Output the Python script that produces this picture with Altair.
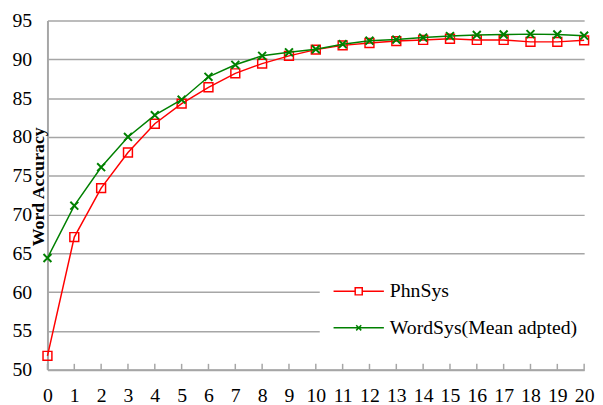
import altair as alt
import pandas as pd

# ---- data ----
x_vals = list(range(21))
phn_sys = [51.8, 67.1, 73.4, 78.0, 81.7, 84.3, 86.4, 88.2, 89.45, 90.45, 91.25,
           91.8, 92.1, 92.35, 92.5, 92.65, 92.5, 92.5, 92.25, 92.25, 92.45]
word_sys = [64.4, 71.15, 76.1, 80.0, 82.8, 84.8, 87.75, 89.3, 90.45, 90.9, 91.3,
            91.95, 92.4, 92.55, 92.8, 93.0, 93.15, 93.2, 93.25, 93.2, 93.05]
series_names = ["PhnSys", "WordSys(Mean adpted)"]
series_colors = ["#ff0000", "#008000"]
y_ticks = [50, 55, 60, 65, 70, 75, 80, 85, 90, 95]

rows = []
for name, vals in zip(series_names, [phn_sys, word_sys]):
    for xv, v in zip(x_vals, vals):
        rows.append({"x": xv, "value": v, "series": name})
df = pd.DataFrame(rows)
ticks_df = pd.DataFrame({"x": x_vals})

FONT = "Liberation Serif"
GRID = "#a6a6a6"

xenc = alt.X("x:Q", title=None,
             scale=alt.Scale(domain=[0, 20], nice=False),
             axis=alt.Axis(values=x_vals, grid=False, ticks=False,
                           domainColor=GRID, domainWidth=2,
                           labelFont=FONT, labelFontSize=20, labelColor="black",
                           labelPadding=16, labelFlush=False, labelOverlap=False))
yenc = alt.Y("value:Q", title="Word Accuracy",
             scale=alt.Scale(domain=[50, 95], nice=False, zero=False),
             axis=alt.Axis(values=y_ticks, grid=True, gridColor=GRID, gridWidth=1.5,
                           ticks=False, domainColor=GRID, domainWidth=2,
                           labelFont=FONT, labelFontSize=20, labelColor="black",
                           labelPadding=16,
                           titleFont=FONT, titleFontSize=18, titleFontWeight="bold",
                           titleColor="black", titleAngle=270, titleX=-9, titleY=168,
                           titleAlign="center", titleBaseline="middle"))

base = alt.Chart(df)

def series_layers(name, color, shape, size, sw):
    sub = base.transform_filter(alt.datum.series == name)
    line = sub.mark_line(strokeWidth=1.5, color=color).encode(x=xenc, y=yenc)
    pts = sub.mark_point(shape=shape, size=size, filled=False, color=color,
                         strokeWidth=sw, opacity=1).encode(x=xenc, y=yenc)
    return line, pts

red_line, red_pts = series_layers("PhnSys", "#ff0000", "square", 81, 1.5)
green_line, green_pts = series_layers("WordSys(Mean adpted)", "#008000",
                                      "M-1,-1L1,1M-1,1L1,-1", 64, 2)

legend_shapes = [
    "M-1,0L-0.14,0M0.14,0L1,0M-0.14,-0.14L0.14,-0.14L0.14,0.14L-0.14,0.14Z",
    "M-1,0L1,0M-0.1,-0.1L0.1,0.1M-0.1,0.1L0.1,-0.1",
]
leg = alt.Legend(orient="none", legendX=276, legendY=238, title=None,
                 fillColor="white", padding=10, rowPadding=0,
                 symbolSize=2601, symbolStrokeWidth=1.5, symbolOpacity=1,
                 symbolOffset=3, labelOffset=5, labelLimit=400,
                 labelFont=FONT, labelFontSize=20, labelColor="black")

legend_layer = base.mark_point(opacity=0.001, filled=False, strokeWidth=1.5).encode(
    x=xenc, y=yenc,
    color=alt.Color("series:N", scale=alt.Scale(domain=series_names, range=series_colors),
                    legend=leg),
    shape=alt.Shape("series:N", scale=alt.Scale(domain=series_names, range=legend_shapes),
                    legend=leg),
)

tick_marks = alt.Chart(ticks_df).mark_rule(color=GRID, strokeWidth=1.5).encode(
    x=xenc, y=alt.value(348), y2=alt.value(354)
)

chart = alt.layer(tick_marks, red_line, red_pts, green_line, green_pts, legend_layer).properties(
    width=544, height=354,
    autosize=alt.AutoSizeParams(type="none"),
    padding={"left": 40, "top": 10, "right": 11, "bottom": 33},
).configure(font=FONT).configure_axis(
    labelFont=FONT, titleFont=FONT
).configure_legend(labelFont=FONT).configure_view(stroke=None)

chart.save("out.html", embed_options={"renderer": "svg", "actions": False})
